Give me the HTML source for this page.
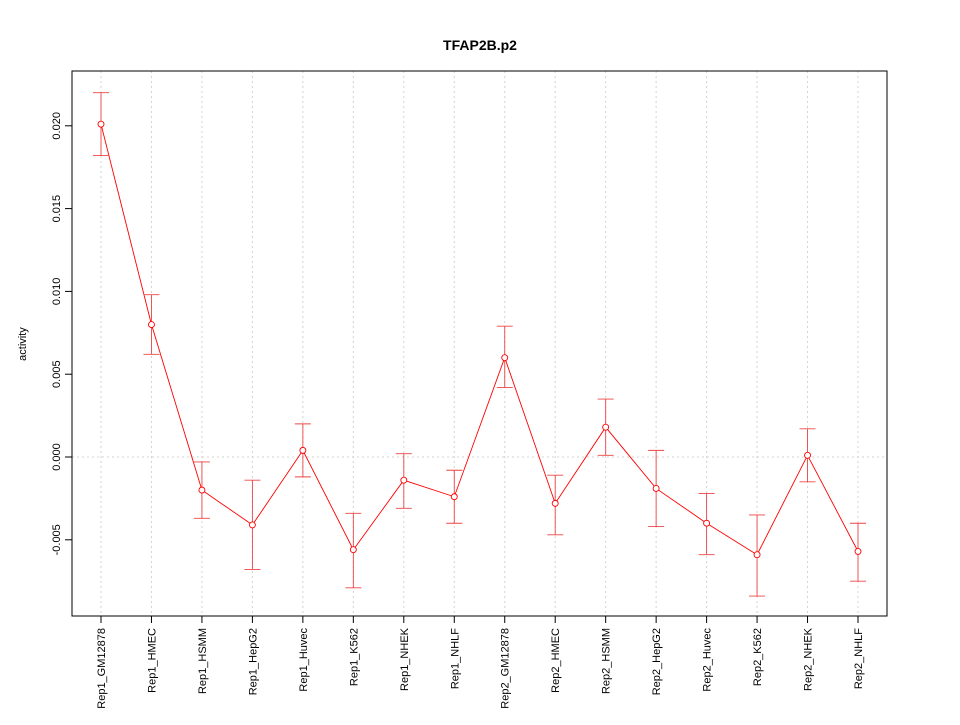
<!DOCTYPE html>
<html><head><meta charset="utf-8"><style>body{margin:0;background:#fff}svg{font-family:"Liberation Sans",sans-serif}</style></head>
<body>
<svg id="chart" width="960" height="720" xmlns="http://www.w3.org/2000/svg">
<rect width="960" height="720" fill="#fff"/>
<text x="480" y="50" text-anchor="middle" font-size="14" font-weight="bold">TFAP2B.p2</text>
<g id="grid"></g><g id="axes"></g><g id="marks"></g>
<rect x="72" y="71" width="815" height="545" fill="none" stroke="#000"/>
<text transform="translate(26,344) rotate(-90)" text-anchor="middle" font-size="11">activity</text>
</svg>
<script>
const categories=["Rep1_GM12878","Rep1_HMEC","Rep1_HSMM","Rep1_HepG2","Rep1_Huvec","Rep1_K562","Rep1_NHEK","Rep1_NHLF","Rep2_GM12878","Rep2_HMEC","Rep2_HSMM","Rep2_HepG2","Rep2_Huvec","Rep2_K562","Rep2_NHEK","Rep2_NHLF"];
const values=[0.0201,0.0080,-0.0020,-0.0041,0.0004,-0.0056,-0.0014,-0.0024,0.0060,-0.0028,0.0018,-0.0019,-0.0040,-0.0059,0.0001,-0.0057];
const upper=[0.0220,0.0098,-0.0003,-0.0014,0.0020,-0.0034,0.0002,-0.0008,0.0079,-0.0011,0.0035,0.0004,-0.0022,-0.0035,0.0017,-0.0040];
const lower=[0.0182,0.0062,-0.0037,-0.0068,-0.0012,-0.0079,-0.0031,-0.0040,0.0042,-0.0047,0.0001,-0.0042,-0.0059,-0.0084,-0.0015,-0.0075];
const yTicks=[-0.005,0,0.005,0.010,0.015,0.020];
const yTickLabels=["-0.005","0.000","0.005","0.010","0.015","0.020"];
const NS="http://www.w3.org/2000/svg";
const x=i=>101+i*(858-101)/(categories.length-1);
const y=v=>457-v*16560;
function mk(t,a,p){const e=document.createElementNS(NS,t);for(const k in a)e.setAttribute(k,a[k]);p.appendChild(e);return e;}
const grid=document.getElementById('grid'),axes=document.getElementById('axes'),marks=document.getElementById('marks');
categories.forEach((c,i)=>{
 const g=mk('line',{x1:x(i),x2:x(i),y1:71,y2:616,stroke:'#d3d3d3','stroke-dasharray':'2,3'},grid);
 
 const t=mk('line',{x1:x(i),x2:x(i),y1:616,y2:623,stroke:'#000'},axes);
 
 const l=mk('text',{transform:`translate(${x(i)+4},628) rotate(-90)`,'text-anchor':'end','font-size':'11'},axes);
 l.textContent=c;
});
const zg=mk('line',{x1:72,x2:887,y1:y(0),y2:y(0),stroke:'#d3d3d3','stroke-dasharray':'2,3'},grid);

yTicks.forEach((v,i)=>{
 const t=mk('line',{x1:65,x2:72,y1:y(v),y2:y(v),stroke:'#000'},axes);
 
 const l=mk('text',{transform:`translate(60,${y(v)}) rotate(-90)`,'text-anchor':'middle','font-size':'11'},axes);
 l.textContent=yTickLabels[i];
});
const line=mk('polyline',{points:values.map((v,i)=>x(i)+','+y(v)).join(' '),fill:'none',stroke:'#f00','stroke-width':'0.9'},marks);

values.forEach((v,i)=>{
 const e=mk('path',{d:`M${x(i)},${y(upper[i])}V${y(lower[i])}M${x(i)-8},${y(upper[i])}h16M${x(i)-8},${y(lower[i])}h16`,stroke:'#e44',fill:'none','stroke-width':'0.9'},marks);
 
 const p=mk('circle',{cx:x(i),cy:y(v),r:3,fill:'#fff',stroke:'#f00','stroke-width':'0.9'},marks);
 
});
</script>
</body></html>
